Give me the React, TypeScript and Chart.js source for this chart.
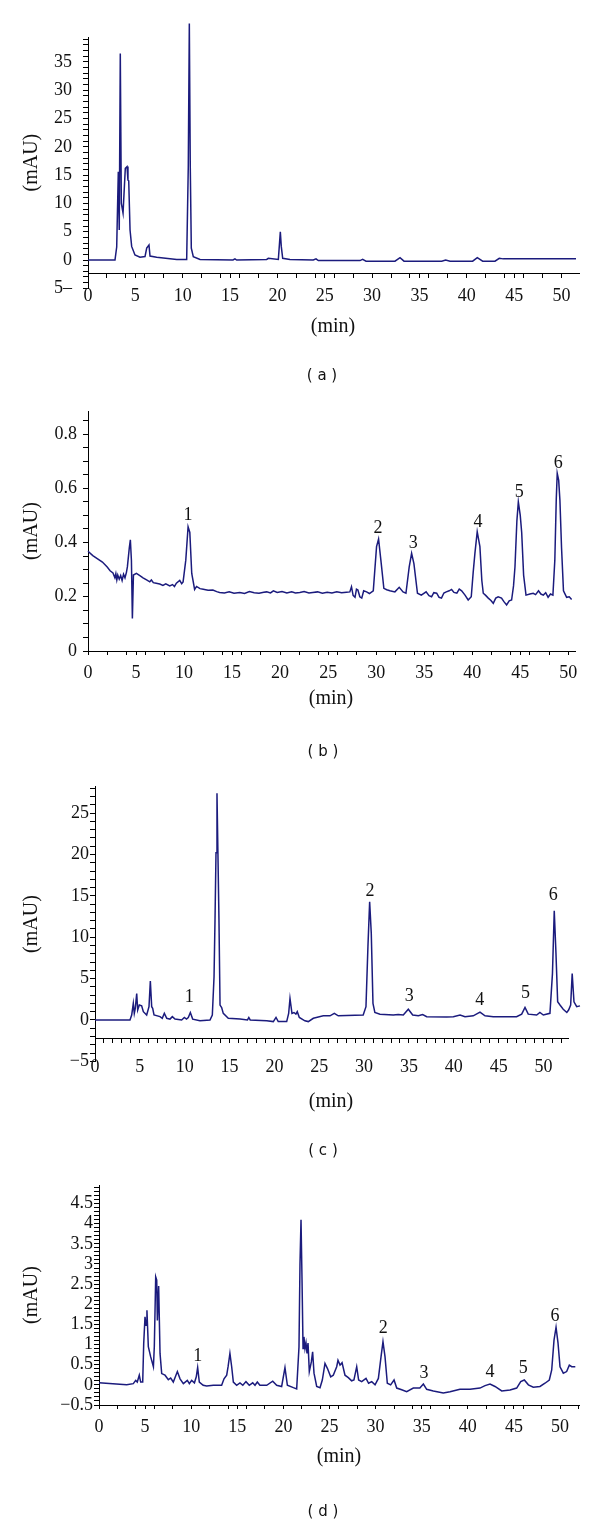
import React, { useEffect, useRef } from 'react';
import { Chart, registerables } from 'chart.js';

Chart.register(...registerables);

const LINE_COLOR = '#1b1b7d';
const SERIF = '"Liberation Serif", "Times New Roman", serif';
const SANS = '"DejaVu Sans", Verdana, sans-serif';

// ---------- Panel (a) ----------
const timeA = [0, 2.85, 3.03, 3.2, 3.3, 3.41, 3.52, 3.7, 3.94, 4.12, 4.22, 4.3, 4.44, 4.61, 4.96, 5.49, 6.02, 6.2, 6.44, 6.55, 7.25, 9.37, 10.42, 10.59, 10.7, 10.8, 10.91, 11.12, 11.83, 15.31, 15.52, 15.7, 18.87, 19.04, 20.1, 20.2, 20.31, 20.41, 20.56, 21.33, 23.79, 24.08, 24.32, 28.72, 29.0, 29.36, 32.42, 32.95, 33.37, 37.35, 37.77, 38.23, 40.62, 41.11, 41.68, 42.98, 43.43, 43.85, 51.53];
const valueA = [0, 0, 2.3, 15.6, 5.3, 36.5, 10, 8.3, 16.2, 16.5, 14.1, 14, 5.3, 2.4, 0.9, 0.5, 0.6, 2.1, 2.65, 0.7, 0.5, 0.1, 0.1, 16.5, 41.8, 16.5, 2.1, 0.6, 0.1, 0, 0.2, 0, 0.1, 0.3, 0.1, 2.4, 5.0, 2.4, 0.3, 0.1, 0, 0.2, -0.1, -0.1, 0.1, -0.2, -0.2, 0.4, -0.2, -0.2, 0.0, -0.2, -0.2, 0.4, -0.2, -0.2, 0.3, 0.2, 0.2];

// ---------- Panel (b) ----------
const timeB = [0.0, 0.5, 1.0, 1.5, 2.0, 2.3, 2.6, 2.8, 2.9, 3.0, 3.1, 3.25, 3.4, 3.55, 3.7, 3.85, 4.0, 4.1, 4.3, 4.41, 4.52, 4.62, 4.73, 5.04, 5.4, 5.73, 6.1, 6.43, 6.6, 6.8, 7.1, 7.47, 7.8, 8.1, 8.51, 8.8, 9.0, 9.2, 9.55, 9.75, 9.9, 10.18, 10.42, 10.6, 10.8, 11.1, 11.3, 11.66, 12.0, 12.5, 13.0, 13.4, 13.7, 14.2, 14.7, 15.2, 15.8, 16.3, 16.8, 17.3, 17.8, 18.3, 18.6, 19.0, 19.3, 19.7, 20.2, 20.7, 21.2, 21.6, 22.05, 22.5, 23.0, 23.4, 23.9, 24.4, 24.9, 25.4, 25.9, 26.4, 26.9, 27.26, 27.43, 27.6, 27.8, 27.95, 28.1, 28.3, 28.5, 28.7, 29.0, 29.3, 29.7, 30.04, 30.25, 30.49, 30.8, 31.1, 31.43, 31.95, 32.4, 32.8, 33.1, 33.44, 33.69, 33.93, 34.3, 34.7, 35.2, 35.5, 35.77, 36.0, 36.3, 36.55, 36.8, 37.05, 37.3, 37.6, 37.85, 38.1, 38.4, 38.65, 38.9, 39.25, 39.58, 39.9, 40.1, 40.28, 40.52, 40.8, 41.0, 41.15, 41.4, 41.67, 41.95, 42.19, 42.45, 42.7, 43.05, 43.3, 43.58, 43.85, 44.1, 44.3, 44.45, 44.65, 44.8, 45.0, 45.15, 45.35, 45.6, 46.0, 46.35, 46.6, 46.9, 47.15, 47.4, 47.65, 47.9, 48.15, 48.4, 48.6, 48.75, 48.85, 49.0, 49.13, 49.3, 49.5, 49.83, 50.1, 50.35];
const valueB = [0.368, 0.352, 0.34, 0.328, 0.31, 0.296, 0.288, 0.27, 0.285, 0.262, 0.28, 0.265, 0.278, 0.26, 0.283, 0.27, 0.29, 0.31, 0.38, 0.41, 0.335, 0.12, 0.28, 0.286, 0.278, 0.27, 0.262, 0.255, 0.262, 0.252, 0.25, 0.247, 0.242, 0.248, 0.24, 0.245, 0.238, 0.25, 0.26, 0.248, 0.255, 0.335, 0.458, 0.437, 0.286, 0.227, 0.238, 0.23, 0.228, 0.224, 0.225, 0.219, 0.216, 0.214, 0.218, 0.213, 0.216, 0.212, 0.219, 0.215, 0.213, 0.217, 0.218, 0.214, 0.222, 0.216, 0.219, 0.214, 0.218, 0.214, 0.216, 0.219, 0.214, 0.216, 0.218, 0.213, 0.217, 0.214, 0.218, 0.215, 0.217, 0.218, 0.237, 0.205, 0.198, 0.228, 0.225, 0.2, 0.195, 0.222, 0.218, 0.212, 0.222, 0.385, 0.413, 0.335, 0.231, 0.226, 0.222, 0.218, 0.235, 0.218, 0.213, 0.31, 0.36, 0.322, 0.213, 0.206, 0.218, 0.204, 0.2, 0.215, 0.213, 0.198, 0.195, 0.214, 0.218, 0.222, 0.227, 0.216, 0.213, 0.228, 0.222, 0.206, 0.188, 0.2, 0.29, 0.36, 0.44, 0.385, 0.26, 0.213, 0.205, 0.195, 0.186, 0.176, 0.195, 0.2, 0.195, 0.182, 0.17, 0.185, 0.188, 0.24, 0.31, 0.48, 0.55, 0.5, 0.437, 0.28, 0.206, 0.21, 0.213, 0.208, 0.222, 0.21, 0.206, 0.215, 0.198, 0.21, 0.206, 0.335, 0.56, 0.655, 0.63, 0.556, 0.38, 0.222, 0.198, 0.2, 0.19];
const peakTimeB = [10.42, 30.2, 33.85, 40.6, 44.9, 48.96];
const peakValueB = [0.5, 0.452, 0.397, 0.474, 0.584, 0.694];

// ---------- Panel (c) ----------
const timeC = [0, 3.9, 4.09, 4.27, 4.38, 4.49, 4.65, 4.76, 4.94, 5.2, 5.39, 5.76, 6.02, 6.17, 6.32, 6.43, 6.58, 7.25, 7.5, 7.73, 8.0, 8.36, 8.62, 8.92, 9.66, 9.96, 10.2, 10.4, 10.63, 10.89, 11.7, 12.82, 13.08, 13.27, 13.38, 13.49, 13.6, 13.7, 13.82, 13.94, 14.12, 14.3, 14.86, 16.17, 17.0, 17.15, 17.3, 19.14, 19.88, 20.18, 20.43, 21.37, 21.59, 21.74, 21.96, 22.18, 22.4, 22.55, 22.78, 23.4, 23.78, 24.34, 25.45, 26.2, 26.68, 27.12, 29.9, 30.21, 30.43, 30.62, 30.8, 30.99, 31.2, 31.77, 33.26, 33.8, 34.37, 34.93, 35.42, 36.05, 36.53, 36.98, 39.2, 39.95, 40.7, 41.25, 42.17, 42.92, 43.48, 44.4, 47.0, 47.57, 47.94, 48.3, 49.24, 49.6, 49.98, 50.72, 51.0, 51.2, 51.39, 51.58, 51.84, 52.2, 52.6, 52.8, 53.03, 53.2, 53.4, 53.7, 54.07];
const valueC = [0, 0, 0.6, 2.0, 0.8, 1.4, 3.2, 1.2, 1.8, 1.7, 1.0, 0.6, 1.6, 4.7, 1.6, 1.4, 0.6, 0.4, 0.2, 0.8, 0.2, 0.1, 0.4, 0.1, 0, 0.3, 0.1, 0.3, 0.9, 0.1, -0.1, 0, 0.6, 5.2, 12.1, 20.2, 27.4, 20.5, 12.1, 1.8, 1.5, 0.8, 0.2, 0.1, 0.0, 0.3, 0.0, -0.1, -0.2, 0.3, -0.2, -0.2, 0.8, 2.6, 0.8, 0.9, 0.7, 1.0, 0.3, -0.1, -0.2, 0.2, 0.5, 0.5, 0.8, 0.5, 0.6, 1.6, 8.9, 14.3, 10.5, 2.0, 0.9, 0.7, 0.6, 0.65, 0.6, 1.3, 0.6, 0.5, 0.65, 0.4, 0.35, 0.4, 0.6, 0.4, 0.5, 0.95, 0.5, 0.4, 0.4, 0.7, 1.5, 0.7, 0.6, 0.9, 0.6, 0.8, 5.6, 13.2, 8.1, 2.2, 1.8, 1.3, 0.9, 1.2, 1.8, 5.6, 2.2, 1.6, 1.7];
const peakTimeC = [10.5, 30.66, 35.04, 42.9, 48.0, 51.1];
const peakValueC = [2.8, 15.6, 2.9, 2.4, 3.2, 15.1];

// ---------- Panel (d) ----------
const timeD = [0, 1.5, 3.0, 3.72, 3.98, 4.15, 4.37, 4.52, 4.74, 4.85, 4.99, 5.1, 5.2, 5.35, 5.6, 5.9, 6.0, 6.15, 6.26, 6.33, 6.47, 6.62, 6.8, 7.16, 7.52, 7.77, 8.06, 8.5, 8.79, 9.15, 9.58, 9.8, 10.05, 10.35, 10.55, 10.7, 10.88, 11.3, 11.68, 12.4, 13.3, 13.56, 13.85, 14.0, 14.2, 14.39, 14.57, 14.93, 15.29, 15.6, 15.94, 16.3, 16.67, 16.92, 17.17, 17.45, 18.19, 18.84, 19.27, 19.81, 20.17, 20.43, 21.08, 21.44, 21.69, 21.8, 21.91, 22.02, 22.13, 22.23, 22.34, 22.45, 22.56, 22.67, 22.81, 23.03, 23.17, 23.32, 23.61, 23.97, 24.22, 24.51, 24.77, 25.13, 25.41, 25.78, 25.92, 26.14, 26.36, 26.68, 27.04, 27.4, 27.65, 27.95, 28.16, 28.49, 28.96, 29.24, 29.58, 29.94, 30.3, 30.59, 30.8, 31.02, 31.27, 31.63, 32.0, 32.29, 32.83, 33.37, 34.09, 34.8, 35.18, 35.54, 36.26, 37.34, 38.07, 39.15, 40.24, 41.32, 41.87, 42.41, 42.95, 43.68, 44.58, 45.3, 45.74, 46.13, 46.57, 47.1, 47.83, 48.37, 48.84, 49.1, 49.35, 49.57, 49.78, 50.0, 50.36, 50.72, 51.01, 51.27, 51.66];
const valueD = [0.05, 0.03, 0.0, 0.03, 0.11, 0.07, 0.24, 0.07, 0.07, 1.03, 1.69, 1.48, 1.85, 0.95, 0.7, 0.45, 0.95, 2.68, 2.6, 1.6, 2.45, 0.78, 0.28, 0.24, 0.13, 0.17, 0.07, 0.33, 0.15, 0.03, 0.11, 0.03, 0.11, 0.05, 0.2, 0.43, 0.07, -0.01, -0.03, -0.01, -0.01, 0.15, 0.24, 0.45, 0.78, 0.45, 0.07, -0.01, 0.05, -0.01, 0.08, -0.01, 0.05, -0.01, 0.07, -0.01, -0.01, 0.09, -0.01, -0.04, 0.43, -0.01, -0.07, -0.1, 0.94, 3.01, 4.1, 2.6, 0.9, 1.19, 0.9, 1.04, 0.78, 1.04, 0.33, 0.57, 0.82, 0.29, -0.04, -0.07, 0.12, 0.53, 0.41, 0.2, 0.24, 0.45, 0.61, 0.49, 0.55, 0.24, 0.18, 0.1, 0.12, 0.45, 0.12, 0.08, 0.16, 0.04, 0.08, 0.0, 0.16, 0.7, 1.07, 0.7, 0.04, 0.0, 0.12, -0.08, -0.12, -0.17, -0.08, -0.08, 0.02, -0.11, -0.15, -0.2, -0.17, -0.11, -0.11, -0.08, -0.02, 0.02, -0.04, -0.15, -0.13, -0.08, 0.08, 0.12, 0.0, -0.06, -0.04, 0.04, 0.12, 0.37, 1.11, 1.43, 1.05, 0.45, 0.29, 0.33, 0.49, 0.45, 0.45];
const peakTimeD = [10.7, 30.84, 35.25, 42.4, 46.0, 49.46];
const peakValueD = [0.71, 1.4, 0.29, 0.3, 0.41, 1.69];

const peakNames = ['1', '2', '3', '4', '5', '6'];

// ---------- Tick labels ----------
const xLabelValues = [0, 5, 10, 15, 20, 25, 30, 35, 40, 45, 50];
const xLabelTexts = ['0', '5', '10', '15', '20', '25', '30', '35', '40', '45', '50'];
const yLabelValuesA = [-5, 0, 5, 10, 15, 20, 25, 30, 35];
const yLabelTextsA = ['5\u2013', '0', '5', '10', '15', '20', '25', '30', '35'];
const yLabelValuesB = [0, 0.2, 0.4, 0.6, 0.8];
const yLabelTextsB = ['0', '0.2', '0.4', '0.6', '0.8'];
const yLabelValuesC = [-5, 0, 5, 10, 15, 20, 25];
const yLabelTextsC = ['\u22125', '0', '5', '10', '15', '20', '25'];
const yLabelValuesD = [-0.5, 0, 0.5, 1, 1.5, 2, 2.5, 3, 3.5, 4, 4.5];
const yLabelTextsD = ['\u22120.5', '0', '0.5', '1', '1.5', '2', '2.5', '3', '3.5', '4', '4.5'];

const r3 = (v: number) => Math.round(v * 1000) / 1000;

function stepTicks(min: number, max: number, step: number): number[] {
  const out: number[] = [];
  const n = Math.round((max - min) / step);
  for (let i = 0; i <= n; i++) out.push(r3(min + i * step));
  return out;
}
function mergeTicks(a: number[], b: number[]): number[] {
  return Array.from(new Set([...a, ...b].map(r3))).sort((p, q) => p - q);
}

type PanelSpec = {
  top: number;
  height: number;
  left: number;
  padTop: number;
  padBottom: number;
  padRight: number;
  xMax: number;
  yMin: number;
  yMax: number;
  xPos: any;
  xHeight: number;
  xPad: number;
  yPad: number;
  xTicks: number[];
  yTicks: number[];
  yLabelValues: number[];
  yLabelTexts: string[];
  time: number[];
  value: number[];
  peakTime: number[];
  peakValue: number[];
};

const panels: PanelSpec[] = [
  {
    top: 0, height: 315, left: 88, padTop: 37, padBottom: 26.7, padRight: 21,
    xMax: 51.85, yMin: -5, yMax: 39.4, xPos: { y: -2.3 }, xHeight: 30, xPad: 8, yPad: 11,
    xTicks: mergeTicks(stepTicks(0, 50, 2), xLabelValues), yTicks: stepTicks(-5, 39, 1),
    yLabelValues: yLabelValuesA, yLabelTexts: yLabelTextsA,
    time: timeA, value: valueA, peakTime: [], peakValue: [],
  },
  {
    top: 380, height: 320, left: 88, padTop: 31, padBottom: 9, padRight: 25,
    xMax: 50.7, yMin: 0, yMax: 0.885, xPos: 'bottom', xHeight: 40, xPad: 7, yPad: 6,
    xTicks: mergeTicks(stepTicks(0, 50, 2), xLabelValues), yTicks: stepTicks(0, 0.85, 0.05),
    yLabelValues: yLabelValuesB, yLabelTexts: yLabelTextsB,
    time: timeB, value: valueB, peakTime: peakTimeB, peakValue: peakValueB,
  },
  {
    top: 760, height: 330, left: 95, padTop: 26.7, padBottom: 28.7, padRight: 31.4,
    xMax: 52.8, yMin: -5, yMax: 28.2, xPos: { y: -2.2 }, xHeight: 30, xPad: 14, yPad: 1,
    xTicks: stepTicks(0, 52, 1), yTicks: stepTicks(-5, 28, 1),
    yLabelValues: yLabelValuesC, yLabelTexts: yLabelTextsC,
    time: timeC, value: valueC, peakTime: peakTimeC, peakValue: peakValueC,
  },
  {
    top: 1160, height: 290, left: 99, padTop: 25, padBottom: 5, padRight: 21,
    xMax: 52.06, yMin: -0.5, yMax: 4.96, xPos: 'bottom', xHeight: 40, xPad: 7, yPad: 1,
    xTicks: mergeTicks(stepTicks(0, 52, 2), xLabelValues), yTicks: stepTicks(-0.5, 4.9, 0.1),
    yLabelValues: yLabelValuesD, yLabelTexts: yLabelTextsD,
    time: timeD, value: valueD, peakTime: peakTimeD, peakValue: peakValueD,
  },
];

const textLabels = [
  { text: '(min)', x: 333, y: 325, font: `20px ${SERIF}` },
  { text: '( a )', x: 322, y: 375, font: `15px ${SANS}` },
  { text: '(min)', x: 331, y: 697, font: `20px ${SERIF}` },
  { text: '( b )', x: 323, y: 751, font: `15px ${SANS}` },
  { text: '(min)', x: 331, y: 1100, font: `20px ${SERIF}` },
  { text: '( c )', x: 323, y: 1150, font: `15px ${SANS}` },
  { text: '(min)', x: 339, y: 1455, font: `20px ${SERIF}` },
  { text: '( d )', x: 323, y: 1511, font: `15px ${SANS}` },
];

function labelFor(value: number, vals: number[], texts: string[]): string {
  const i = vals.indexOf(r3(value));
  return i >= 0 ? texts[i] : '';
}

function buildConfig(p: PanelSpec): any {
  const peakPlugin = {
    id: 'peakNames',
    afterDatasetsDraw(chart: any) {
      const { ctx, scales } = chart;
      ctx.save();
      ctx.font = `18px ${SERIF}`;
      ctx.fillStyle = '#111';
      ctx.textAlign = 'center';
      ctx.textBaseline = 'middle';
      p.peakTime.forEach((t, i) => {
        ctx.fillText(peakNames[i], scales.x.getPixelForValue(t), scales.y.getPixelForValue(p.peakValue[i]));
      });
      ctx.restore();
    },
  };
  return {
    type: 'line',
    data: {
      datasets: [
        {
          data: p.time.map((t, i) => ({ x: t, y: p.value[i] })),
          borderColor: LINE_COLOR,
          borderWidth: 1.5,
          pointRadius: 0,
          tension: 0,
          fill: false,
          clip: false,
        },
      ],
    },
    options: {
      animation: false,
      responsive: false,
      maintainAspectRatio: false,
      layout: { padding: { top: p.padTop, bottom: p.padBottom, left: 0, right: p.padRight } },
      plugins: { legend: { display: false }, tooltip: { enabled: false }, title: { display: false } },
      scales: {
        x: {
          type: 'linear',
          bounds: 'data',
          position: p.xPos,
          // range is set here (not via min/max) so that points beyond the axis end are still drawn
          afterDataLimits: (s: any) => { s.min = 0; s.max = p.xMax; },
          afterBuildTicks: (s: any) => { s.ticks = p.xTicks.map((v) => ({ value: v })); },
          afterFit: (s: any) => { s.height = p.xHeight; s.paddingLeft = 0; s.paddingRight = 0; },
          ticks: {
            autoSkip: false, maxRotation: 0, minRotation: 0, padding: p.xPad,
            color: '#111', font: { family: SERIF, size: 18 },
            callback: (v: number) => labelFor(v, xLabelValues, xLabelTexts),
          },
          grid: { drawOnChartArea: false, drawTicks: true, tickLength: 4, color: '#000', lineWidth: 1 },
          border: { display: true, color: '#000', width: 1 },
        },
        y: {
          type: 'linear',
          min: p.yMin,
          max: p.yMax,
          position: 'left',
          afterBuildTicks: (s: any) => { s.ticks = p.yTicks.map((v) => ({ value: v })); },
          afterFit: (s: any) => { s.width = p.left; s.paddingTop = 0; s.paddingBottom = 0; },
          ticks: {
            autoSkip: false, padding: p.yPad,
            color: '#111', font: { family: SERIF, size: 18 },
            callback: (v: number) => labelFor(v, p.yLabelValues, p.yLabelTexts),
          },
          grid: { drawOnChartArea: false, drawTicks: true, tickLength: 5, color: '#000', lineWidth: 1 },
          border: { display: true, color: '#000', width: 1 },
          title: {
            display: true, text: '(mAU)', color: '#111',
            font: { family: SERIF, size: 20 }, padding: { top: 20, bottom: 0 },
          },
        },
      },
    },
    plugins: [peakPlugin],
  };
}

function Panel({ spec }: { spec: PanelSpec }) {
  const ref = useRef<HTMLCanvasElement>(null);
  useEffect(() => {
    if (!ref.current) return;
    const chart = new Chart(ref.current, buildConfig(spec));
    return () => chart.destroy();
  }, [spec]);
  return (
    <canvas
      ref={ref}
      width={600}
      height={spec.height}
      style={{ position: 'absolute', left: 0, top: spec.top, width: 600, height: spec.height }}
    />
  );
}

export default function App() {
  return (
    <div style={{ position: 'absolute', left: 0, top: 0, width: 600, height: 1519, background: '#fff', overflow: 'hidden' }}>
      {panels.map((p, i) => (
        <Panel key={i} spec={p} />
      ))}
      {textLabels.map((l, i) => (
        <div
          key={'t' + i}
          style={{
            position: 'absolute', left: l.x, top: l.y, transform: 'translate(-50%, -50%)',
            font: l.font, color: '#111', whiteSpace: 'pre', lineHeight: 1,
          }}
        >
          {l.text}
        </div>
      ))}
    </div>
  );
}
